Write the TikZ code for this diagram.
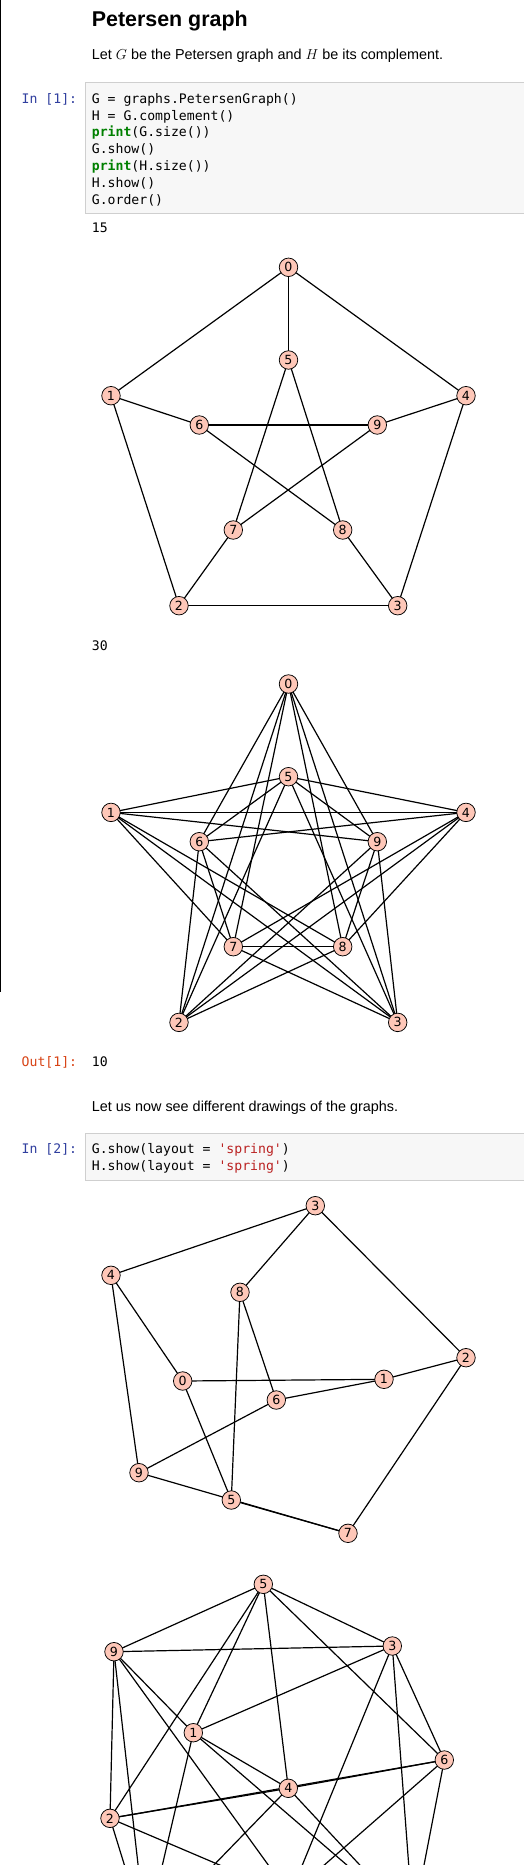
\documentclass[tikz,border=0pt]{standalone}
\usepackage{fontspec}
\setmainfont{Liberation Sans}
\setmonofont{DejaVu Sans Mono}
\newfontfamily\vtxfont{DejaVu Sans}
\usetikzlibrary{backgrounds}
\definecolor{vfill}{HTML}{FEC7B8}
\definecolor{codebg}{HTML}{F7F7F7}
\definecolor{codeborder}{HTML}{CFCFCF}
\definecolor{inprompt}{HTML}{303F9F}
\definecolor{outprompt}{HTML}{D84315}
\definecolor{kwgreen}{HTML}{008000}
\definecolor{strred}{HTML}{BA2121}
\newcommand\mycodefont{\fontsize{13.15}{16.8}\selectfont\ttfamily}
\newcommand\mybodyfont{\fontsize{14.4}{17}\selectfont}
\begin{document}
\begin{tikzpicture}[x=1pt,y=-1pt,
  vtx/.style={circle,draw=black,line width=0.75pt,fill=vfill,minimum size=18.5pt,inner sep=0pt,font=\vtxfont\fontsize{12.6}{12.6}\selectfont},
  gedge/.style={line width=1.2pt,black},
  txt/.style={anchor=base west,inner sep=0pt},
  codetxt/.style={anchor=base west,inner sep=0pt,font=\mycodefont},
  prompt/.style={anchor=base east,inner sep=0pt,font=\mycodefont},
  codebox/.style={draw=codeborder,fill=codebg,line width=0.8pt}]
\useasboundingbox (0,0) rectangle (524,1865);
\clip (0,0) rectangle (524,1865);
\begin{scope}[on background layer]
  \fill[white] (0,0) rectangle (524,1865);
\end{scope}
% left cell bar
\draw[line width=1.2pt] (0.6,0) -- (0.6,991.7);
% title and text
\node[txt,font=\fontsize{21.4}{25}\selectfont\bfseries] (title) at (91.7,26.7) {Petersen graph};
\node[txt,font=\mybodyfont] (intro) at (91.7,59.3) {Let $G$ be the Petersen graph and $H$ be its complement.};
% code cell 1
\draw[codebox] (85,82.3) rectangle (540,213.3);
\node[prompt,text=inprompt] (in1) at (77.3,103.3) {In [1]:};
\node[codetxt] (c11) at (91.7,103.3) {G = graphs.PetersenGraph()};
\node[codetxt] (c12) at (91.7,120.1) {H = G.complement()};
\node[codetxt] (c13) at (91.7,136.9) {\textcolor{kwgreen}{\bfseries print}(G.size())};
\node[codetxt] (c14) at (91.7,153.7) {G.show()};
\node[codetxt] (c15) at (91.7,170.5) {\textcolor{kwgreen}{\bfseries print}(H.size())};
\node[codetxt] (c16) at (91.7,187.3) {H.show()};
\node[codetxt] (c17) at (91.7,204.1) {G.order()};
\node[codetxt] (o15) at (91.7,232.7) {15};
\node[codetxt] (o30) at (91.7,650) {30};
\node[prompt,text=outprompt] (out1) at (77.3,1066) {Out[1]:};
\node[codetxt] (o10) at (91.7,1066) {10};
\node[txt,font=\mybodyfont] (txt2) at (91.7,1111.7) {Let us now see different drawings of the graphs.};
% code cell 2
\draw[codebox] (85,1133.3) rectangle (540,1180);
\node[prompt,text=inprompt] (in2) at (77.3,1153.3) {In [2]:};
\node[codetxt] (c21) at (91.7,1153.3) {G.show(layout = \textcolor{strred}{'spring'})};
\node[codetxt] (c22) at (91.7,1170.1) {H.show(layout = \textcolor{strred}{'spring'})};
% Graph A: Petersen
\foreach \n/\x/\y in {0/288.5/267.3,1/111/395.7,2/179/605.7,3/397.7/605.7,4/466/395.7,5/288.5/360,6/199.3/425,7/233.3/530,8/342.7/530,9/377.3/425}
  \node[vtx] (a\n) at (\x,\y) {\n};
% Graph B: complement, same layout
\foreach \n/\x/\y in {0/288.5/267.3,1/111/395.7,2/179/605.7,3/397.7/605.7,4/466/395.7,5/288.5/360,6/199.3/425,7/233.3/530,8/342.7/530,9/377.3/425}
  \node[vtx] (b\n) at (\x,{\y+416.7}) {\n};
% Graph C: Petersen spring
\foreach \n/\x/\y in {0/182.7/1381,1/384/1379.3,2/466/1357.7,3/315.3/1205.7,4/111/1275.3,5/231.3/1500,6/276.3/1400,7/348/1533.3,8/240/1292.3,9/139/1472.7}
  \node[vtx] (c\n) at (\x,\y) {\n};
% Graph D: complement spring (vertices 0, 7, 8 lie below the cropped edge)
\foreach \n/\x/\y in {1/193.3/1732.7,2/110/1818.3,3/392.3/1646,4/288.3/1788.3,5/263.3/1584.3,6/444.3/1760,9/114/1651.7}
  \node[vtx] (d\n) at (\x,\y) {\n};
\coordinate (d0) at (290,1895);
\coordinate (d7) at (413,1922);
\coordinate (d8) at (146,1935);
\begin{scope}[on background layer]
  \foreach \i/\j in {0/1,1/2,2/3,3/4,4/0,0/5,1/6,2/7,3/8,4/9,5/7,7/9,9/6,6/8,8/5}{
    \draw[gedge] (a\i.center) -- (a\j.center);
    \draw[gedge] (c\i.center) -- (c\j.center);
  }
  \foreach \i/\j in {0/2,0/3,0/6,0/7,0/8,0/9,1/3,1/4,1/5,1/7,1/8,1/9,2/4,2/5,2/6,2/8,2/9,3/5,3/6,3/7,3/9,4/5,4/6,4/7,4/8,5/6,5/9,6/7,7/8,8/9}{
    \draw[gedge] (b\i.center) -- (b\j.center);
    \draw[gedge] (d\i.center) -- (d\j.center);
  }
\end{scope}
\end{tikzpicture}
\end{document}
